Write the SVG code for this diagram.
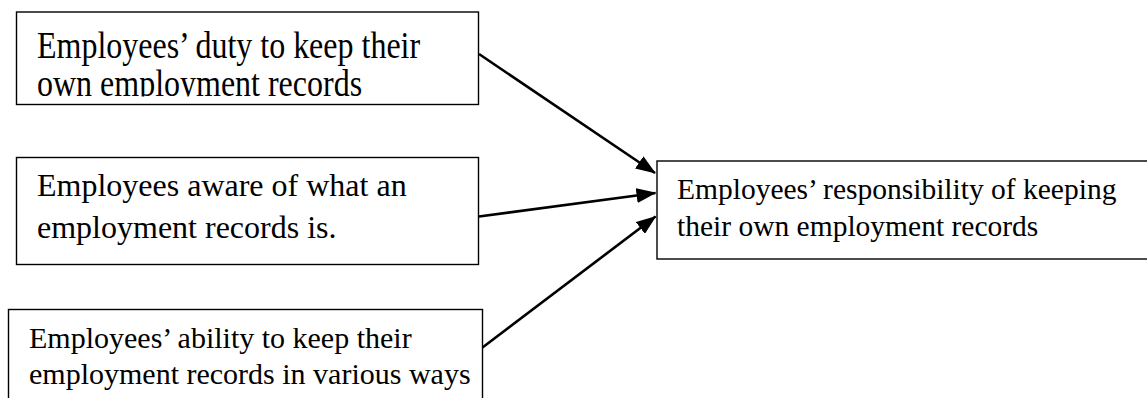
<svg xmlns="http://www.w3.org/2000/svg" width="1147" height="398" viewBox="0 0 1147 398">
<style>
.box{fill:#fff;stroke:#000;stroke-width:1.4}
.t{font-family:"Liberation Serif","Times New Roman",serif;fill:#000}
.c{stroke:#000;stroke-width:2.6;fill:none}
</style>
<defs>
<marker id="ah" markerUnits="userSpaceOnUse" markerWidth="20" markerHeight="15" refX="19" refY="7.5" orient="auto">
<path d="M0,0 L20,7.5 L0,15 z" fill="#000"/>
</marker>
<clipPath id="clip1"><rect x="16" y="12" width="463" height="84.5"/></clipPath>
</defs>
<g id="n1">
<rect class="box" x="16.5" y="12" width="462" height="92.5"/>
<g clip-path="url(#clip1)">
<g transform="translate(37,58) scale(1,1.2)">
<text class="t" font-size="32" x="0" y="0">Employees’ duty to keep their</text>
<text class="t" font-size="32" x="0" y="31.5">own employment records</text>
</g>
</g>
</g>
<g id="n2">
<rect class="box" x="16.5" y="157.5" width="462" height="107"/>
<text class="t" font-size="32" x="37" y="196">Employees aware of what an</text>
<text class="t" font-size="32" x="37" y="238">employment records is.</text>
</g>
<g id="n3">
<rect class="box" x="8.5" y="309.5" width="474" height="120"/>
<text class="t" font-size="30" x="29" y="348">Employees’ ability to keep their</text>
<text class="t" font-size="30" x="29" y="383.5">employment records in various ways</text>
</g>
<g id="n4">
<rect class="box" x="657" y="161" width="520" height="98"/>
<text class="t" font-size="29.5" x="677" y="199">Employees’ responsibility of keeping</text>
<text class="t" font-size="29.5" x="677" y="236">their own employment records</text>
</g>
<g id="connectors">
<line class="c" x1="479" y1="54" x2="655" y2="173" marker-end="url(#ah)"/>
<line class="c" x1="479" y1="216.5" x2="655.5" y2="193" marker-end="url(#ah)"/>
<line class="c" x1="482.5" y1="347.5" x2="655.5" y2="216.5" marker-end="url(#ah)"/>
</g>
</svg>
